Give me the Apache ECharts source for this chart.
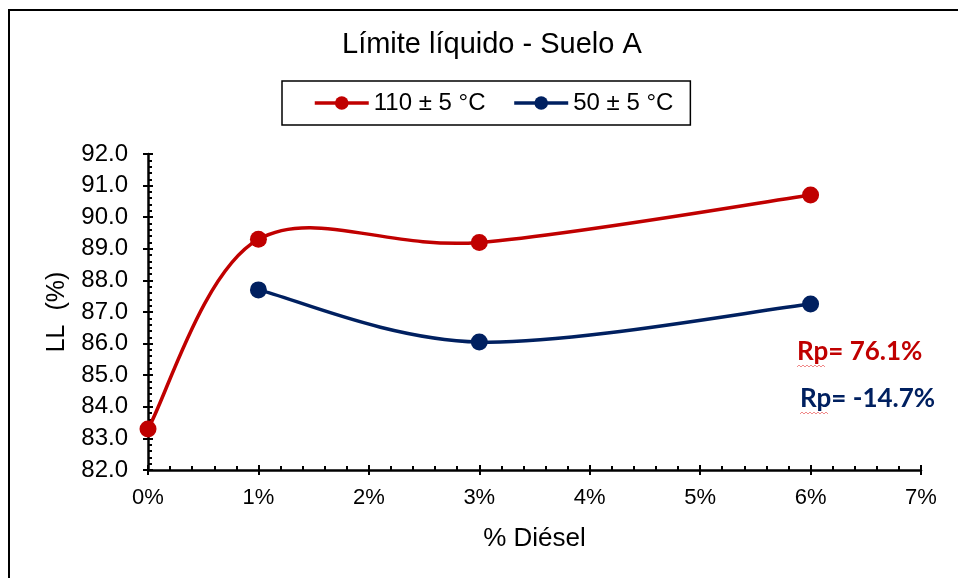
<!DOCTYPE html>
<html>
<head>
<meta charset="utf-8">
<script src="https://cdn.jsdelivr.net/npm/echarts@6/dist/echarts.min.js"></script>
<style>
  html, body { margin: 0; padding: 0; background: #fff; }
  #chart { width: 958px; height: 578px; }
</style>
</head>
<body>
<div id="chart"></div>
<script>
// Liquid limit versus diesel content, two drying temperatures
const seriesNames = ['110 ± 5 °C', '50 ± 5 °C'];
const dieselHot = [0, 1, 3, 6];          // % diesel, 110 °C series
const llHot = [83.3, 89.3, 89.2, 90.7];  // LL (%)
const dieselCold = [1, 3, 6];            // % diesel, 50 °C series
const llCold = [87.7, 86.05, 87.25];     // LL (%)
const rpLabels = ['Rp= 76.1%', 'Rp= -14.7%'];
const colors = ['#C00000', '#002060'];

const font = 'Liberation Sans, Arial, sans-serif';
const rpFont = 'bold 26px Lato, "Open Sans", sans-serif';

const chart = echarts.init(document.getElementById('chart'), null, { renderer: 'canvas' });

// Spreadsheet-style smoothed curve: each segment is a cubic Bezier whose
// control points follow the neighbouring points (Catmull-Rom, tension 1/6).
function smoothCurve(xs, ys, color) {
  const pts = xs.map((x, i) => [x, ys[i]]);
  return {
    type: 'custom',
    silent: true,
    z: 2,
    data: pts.slice(0, -1).map((p, i) => [p[0], p[1], i]),
    encode: { x: 0, y: 1 },
    renderItem: function (params, api) {
      const i = api.value(2);
      const c = pts.map(p => api.coord(p));
      const p0 = c[Math.max(i - 1, 0)];
      const p1 = c[i];
      const p2 = c[i + 1];
      const p3 = c[Math.min(i + 2, c.length - 1)];
      return {
        type: 'bezierCurve',
        shape: {
          x1: p1[0], y1: p1[1],
          cpx1: p1[0] + (p2[0] - p0[0]) / 6, cpy1: p1[1] + (p2[1] - p0[1]) / 6,
          cpx2: p2[0] - (p3[0] - p1[0]) / 6, cpy2: p2[1] - (p3[1] - p1[1]) / 6,
          x2: p2[0], y2: p2[1]
        },
        style: { fill: 'none', stroke: color, lineWidth: 3.5 }
      };
    }
  };
}

// thin wavy proofing underline beneath the "Rp" prefix
function squiggle(x, y, w) {
  const pts = [];
  for (let k = 0; k <= w; k += 2) pts.push([x + k, y + ((k / 2) % 2 ? -1 : 1)]);
  return {
    type: 'polyline', silent: true,
    shape: { points: pts },
    style: { stroke: '#f08a8a', lineWidth: 1, fill: 'none' }
  };
}

const baseX = {
  type: 'value', min: 0, max: 7, interval: 1, position: 'bottom',
  splitLine: { show: false }
};
const baseY = {
  type: 'value', min: 82, max: 92, interval: 1, position: 'left',
  splitLine: { show: false }
};
const tickStyle = { color: '#000', width: 2 };

chart.setOption({
  animation: false,
  backgroundColor: '#fff',
  title: {
    text: 'Límite líquido - Suelo A',
    left: 337, top: 25,
    textStyle: { fontFamily: font, fontSize: 29, fontWeight: 'normal', color: '#000' }
  },
  legend: {
    left: 282, top: 81,
    padding: [10, 17, 10, 31],
    itemGap: 27,
    itemWidth: 54, itemHeight: 17,
    borderColor: '#000', borderWidth: 1.5,
    textStyle: { fontFamily: font, fontSize: 24, color: '#000' },
    lineStyle: { width: 3.5, opacity: 1 },
    data: seriesNames
  },
  grid: { left: 148, right: 37, top: 154, bottom: 108 },
  xAxis: [
    Object.assign({}, baseX, {
      name: '% Diésel', nameLocation: 'middle', nameGap: 56,
      nameTextStyle: { fontFamily: font, fontSize: 26, color: '#000' },
      axisLine: { show: true, onZero: false, lineStyle: { color: '#000', width: 2.5 } },
      axisTick: { show: true, inside: true, length: 5, lineStyle: tickStyle },
      minorTick: { show: true, splitNumber: 5, length: 4, lineStyle: tickStyle },
      axisLabel: {
        fontFamily: font, fontSize: 22, color: '#000', margin: 17,
        formatter: v => v + '%'
      }
    }),
    Object.assign({}, baseX, {
      axisLine: { show: false, onZero: false },
      axisTick: { show: true, inside: false, length: 5, lineStyle: tickStyle },
      axisLabel: { show: false }
    })
  ],
  yAxis: [
    Object.assign({}, baseY, {
      name: 'LL  (%)', nameLocation: 'middle', nameGap: 78, nameRotate: 90,
      nameTextStyle: { fontFamily: font, fontSize: 25, color: '#000' },
      axisLine: { show: true, onZero: false, lineStyle: { color: '#000', width: 2.5 } },
      axisTick: { show: true, inside: true, length: 5, lineStyle: tickStyle },
      minorTick: { show: true, splitNumber: 5, length: 4, lineStyle: tickStyle },
      axisLabel: {
        fontFamily: font, fontSize: 24, color: '#000', margin: 20,
        formatter: v => v.toFixed(1)
      }
    }),
    Object.assign({}, baseY, {
      axisLine: { show: false, onZero: false },
      axisTick: { show: true, inside: false, length: 5, lineStyle: tickStyle },
      axisLabel: { show: false }
    })
  ],
  series: [
    // markers (and legend entries); the curves are drawn by the custom series
    {
      name: seriesNames[0], type: 'line',
      data: dieselHot.map((x, i) => [x, llHot[i]]),
      symbol: 'circle', symbolSize: 17,
      lineStyle: { color: colors[0], width: 3.5, opacity: 0 },
      itemStyle: { color: colors[0] },
      z: 3
    },
    {
      name: seriesNames[1], type: 'line',
      data: dieselCold.map((x, i) => [x, llCold[i]]),
      symbol: 'circle', symbolSize: 17,
      lineStyle: { color: colors[1], width: 3.5, opacity: 0 },
      itemStyle: { color: colors[1] },
      z: 3
    },
    smoothCurve(dieselHot, llHot, colors[0]),
    smoothCurve(dieselCold, llCold, colors[1])
  ],
  graphic: [
    {
      type: 'rect', left: 6.5, top: 7.5, silent: true,
      shape: { width: 1000, height: 600 },
      style: { fill: 'none', stroke: '#000', lineWidth: 2 }
    },
    {
      type: 'text', x: 797, y: 352,
      style: { text: rpLabels[0], fill: colors[0], font: rpFont, textVerticalAlign: 'middle' }
    },
    {
      type: 'text', x: 800, y: 399,
      style: { text: rpLabels[1], fill: colors[1], font: rpFont, textVerticalAlign: 'middle' }
    },
    squiggle(797, 366, 28),
    squiggle(800, 413, 28)
  ]
});
</script>
</body>
</html>
